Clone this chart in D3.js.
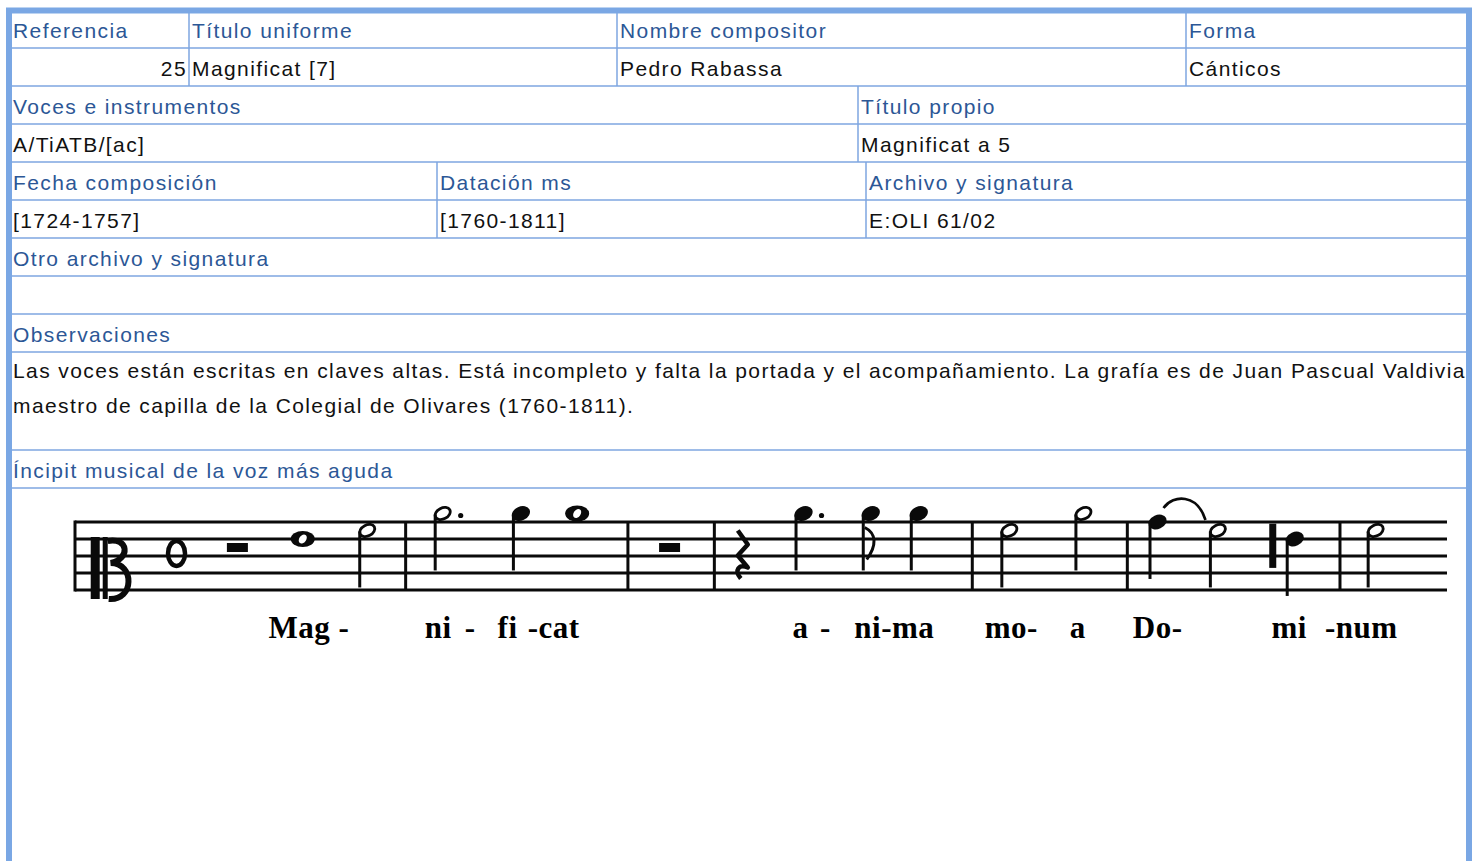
<!DOCTYPE html>
<html lang="es">
<head>
<meta charset="utf-8">
<title>Magnificat [7] - ficha</title>
<script src="https://cdn.jsdelivr.net/npm/d3@7"></script>
<style>
  html, body { margin: 0; padding: 0; background: #fff; }
  svg { display: block; }
  .form text { font-family: "Liberation Sans", Arial, sans-serif; font-size: 21px; letter-spacing: 1.4px; }
  .lbl { fill: #2c5796; }
  .val { fill: #111; }
  .grid { stroke: #7ea6e0; stroke-width: 1.5; }
  .lyric { font-family: "Liberation Serif", "Times New Roman", serif; font-weight: bold; font-size: 31px; letter-spacing: 0.5px; fill: #000; }
</style>
</head>
<body>
<div id="ficha"></div>
<script>
// ---- record fields ----
const headRow1 = ["Referencia", "Título uniforme", "Nombre compositor", "Forma"];
const valRow1 = ["25", "Magnificat [7]", "Pedro Rabassa", "Cánticos"];
const headRow2 = ["Voces e instrumentos", "Título propio"];
const valRow2 = ["A/TiATB/[ac]", "Magnificat a 5"];
const headRow3 = ["Fecha composición", "Datación ms", "Archivo y signatura"];
const valRow3 = ["[1724-1757]", "[1760-1811]", "E:OLI 61/02"];
const headRow4 = ["Otro archivo y signatura"];
const valRow4 = [""];
const obsLabel = "Observaciones";
const obsLines = [
  "Las voces están escritas en claves altas. Está incompleto y falta la portada y el acompañamiento. La grafía es de Juan Pascual Valdivia,",
  "maestro de capilla de la Colegial de Olivares (1760-1811)."
];
const incipitLabel = "Íncipit musical de la voz más aguda";

// ---- incipit (pos = place along the staff 0..1000, step = staff step, 0 = bottom line) ----
const notes = [
  { pos: 166, step: 6, dur: "whole" },
  { pos: 213, step: 7, dur: "half" },
  { pos: 268, step: 9, dur: "half", dot: true },
  { pos: 325, step: 9, dur: "quarter" },
  { pos: 366, step: 9, dur: "whole" },
  { pos: 531, step: 9, dur: "quarter", dot: true },
  { pos: 580, step: 9, dur: "eighth" },
  { pos: 615, step: 9, dur: "quarter" },
  { pos: 681, step: 7, dur: "half" },
  { pos: 735, step: 9, dur: "half" },
  { pos: 789, step: 8, dur: "quarter", tie: true },
  { pos: 833, step: 7, dur: "half" },
  { pos: 889, step: 6, dur: "quarter", acc: 873 },
  { pos: 948, step: 7, dur: "half" }
];
const barlines = [241, 403, 466, 654, 767, 922];
const restsWhole = [118, 433];
const restsQuarter = [486];
const lyrics = [
  ["Mag -", 141], ["ni", 255], ["-", 284], ["fi", 308], ["-cat", 330],
  ["a", 523], ["-", 543], ["ni-ma", 568], ["mo-", 663], ["a", 725],
  ["Do-", 771], ["mi", 872], ["-num", 911]
];

const W = 1479, H = 861;
const L = 12, R = 1466;

const svg = d3.select("#ficha").append("svg")
  .attr("width", W).attr("height", H);

const form = svg.append("g").attr("class", "form");

svg.append("defs").append("clipPath").attr("id", "inner")
  .append("rect").attr("x", L).attr("y", 10).attr("width", R - L).attr("height", H);

// horizontal rules
const hLines = [48, 86, 124, 162, 200, 238, 276, 314, 352, 450, 488];
form.selectAll("line.h").data(hLines).join("line")
  .attr("class", "grid h")
  .attr("x1", L).attr("x2", R).attr("y1", d => d).attr("y2", d => d);

// vertical rules
const vLines = [
  { x: 189, y1: 10, y2: 86 }, { x: 617, y1: 10, y2: 86 }, { x: 1186, y1: 10, y2: 86 },
  { x: 858, y1: 86, y2: 162 },
  { x: 437, y1: 162, y2: 238 }, { x: 866, y1: 162, y2: 238 }
];
form.selectAll("line.v").data(vLines).join("line")
  .attr("class", "grid v")
  .attr("x1", d => d.x).attr("x2", d => d.x).attr("y1", d => d.y1).attr("y2", d => d.y2);

// text cells
const cellRows = [
  { top: 10, cols: [L, 189, 617, 1186], texts: headRow1, cls: "lbl" },
  { top: 48, cols: [L, 189, 617, 1186], texts: valRow1, cls: "val" },
  { top: 86, cols: [L, 858], texts: headRow2, cls: "lbl" },
  { top: 124, cols: [L, 858], texts: valRow2, cls: "val" },
  { top: 162, cols: [L, 437, 866], texts: headRow3, cls: "lbl" },
  { top: 200, cols: [L, 437, 866], texts: valRow3, cls: "val" },
  { top: 238, cols: [L], texts: headRow4, cls: "lbl" },
  { top: 276, cols: [L], texts: valRow4, cls: "val" },
  { top: 314, cols: [L], texts: [obsLabel], cls: "lbl" },
  { top: 450, cols: [L], texts: [incipitLabel], cls: "lbl" }
];
const cells = cellRows.flatMap(r => r.texts.map((t, i) => ({
  t, cls: r.cls, y: r.top + 28, x: r.cols[i], right: r.cols[i + 1], first: i === 0
})));
form.append("g").attr("clip-path", "url(#inner)")
  .selectAll("text").data(cells).join("text")
  .attr("class", d => d.cls)
  .attr("y", d => d.y)
  .attr("x", d => (d.t === "25" ? d.right - 2 : d.x + (d.first ? 1 : 3)))
  .attr("text-anchor", d => (d.t === "25" ? "end" : "start"))
  .text(d => d.t);

form.append("g").attr("clip-path", "url(#inner)")
  .selectAll("text").data(obsLines).join("text")
  .attr("class", "val")
  .attr("x", L + 1).attr("y", (d, i) => 378 + i * 35)
  .text(d => d);

// outer frame
svg.append("path")
  .attr("d", `M9,${H + 10} V10.5 H1469 V${H + 10}`)
  .attr("fill", "none").attr("stroke", "#7aa7e4").attr("stroke-width", 6);

// ---- music ----
const mus = svg.append("g");
const xs = d3.scaleLinear().domain([0, 1000]).range([75, 1447]);
const ys = d3.scaleLinear().domain([0, 8]).range([590, 522]);
const ink = "#0a0a0a";

// staff
mus.selectAll("line.staff").data(d3.range(0, 9, 2)).join("line")
  .attr("x1", xs(0)).attr("x2", xs(1000))
  .attr("y1", d => ys(d)).attr("y2", d => ys(d))
  .attr("stroke", ink).attr("stroke-width", 3);
mus.append("line")
  .attr("x1", xs(0)).attr("x2", xs(0)).attr("y1", ys(8) - 1.5).attr("y2", ys(0) + 1.5)
  .attr("stroke", ink).attr("stroke-width", 3);

// barlines
mus.selectAll("line.bar").data(barlines).join("line")
  .attr("x1", d => xs(d)).attr("x2", d => xs(d))
  .attr("y1", ys(8)).attr("y2", ys(0))
  .attr("stroke", ink).attr("stroke-width", 3);

// C clef (old style)
const clef = mus.append("g").attr("transform", `translate(${xs(10)},${ys(6)})`);
clef.append("rect").attr("x", 2).attr("y", -2).attr("width", 9).attr("height", 62).attr("fill", ink);
clef.append("rect").attr("x", 14).attr("y", -2).attr("width", 5).attr("height", 62).attr("fill", ink);
clef.append("path")
  .attr("d", "M19,2 C40,-2 42,20 22,24 C46,24 46,62 20,60")
  .attr("fill", "none").attr("stroke", ink).attr("stroke-width", 6);

// time signature
mus.append("ellipse")
  .attr("cx", xs(74)).attr("cy", ys(4.3)).attr("rx", 8.5).attr("ry", 12.5)
  .attr("fill", "none").attr("stroke", ink).attr("stroke-width", 4.5);

// rests
mus.selectAll("rect.rest").data(restsWhole).join("rect")
  .attr("x", d => xs(d) - 10).attr("y", ys(6) + 4).attr("width", 21).attr("height", 9)
  .attr("fill", ink);
mus.selectAll("path.qrest").data(restsQuarter).join("path")
  .attr("transform", d => `translate(${xs(d)},${ys(7)})`)
  .attr("d", "M-4,0 L6,14 L-4,25 L6,37 C-3,33 -8,40 -1,48")
  .attr("fill", "none").attr("stroke", ink).attr("stroke-width", 4.5).attr("stroke-linejoin", "round");

// notes
const ng = mus.selectAll("g.note").data(notes).join("g")
  .attr("transform", d => `translate(${xs(d.pos)},${ys(d.step)})`);

ng.filter(d => d.dur === "whole").each(function () {
  const g = d3.select(this);
  g.append("ellipse").attr("rx", 12).attr("ry", 8).attr("fill", ink);
  g.append("ellipse").attr("rx", 3.5).attr("ry", 5).attr("transform", "rotate(35)").attr("fill", "#fff");
});
ng.filter(d => d.dur === "half").append("ellipse")
  .attr("rx", 8).attr("ry", 5.5).attr("transform", "rotate(-28)")
  .attr("fill", "#fff").attr("stroke", ink).attr("stroke-width", 2.8);
ng.filter(d => d.dur === "quarter" || d.dur === "eighth").append("ellipse")
  .attr("rx", 9.5).attr("ry", 7).attr("transform", "rotate(-25)").attr("fill", ink);
ng.filter(d => d.dur !== "whole").append("line")
  .attr("x1", -7.5).attr("x2", -7.5).attr("y1", 1)
  .attr("y2", d => ys(d.step - 6.7) - ys(d.step))
  .attr("stroke", ink).attr("stroke-width", 3);
ng.filter(d => d.dur === "eighth").append("path")
  .attr("d", "M-6,14 C6,20 6,32 -4,46")
  .attr("fill", "none").attr("stroke", ink).attr("stroke-width", 3);
ng.filter(d => d.dot).append("circle")
  .attr("cx", 18).attr("cy", 2).attr("r", 2.6).attr("fill", ink);
ng.filter(d => d.tie).append("path")
  .attr("d", "M6,-14 C16,-28 40,-28 48,-2")
  .attr("fill", "none").attr("stroke", ink).attr("stroke-width", 2.6);

// accidental
mus.selectAll("rect.acc").data(notes.filter(d => d.acc)).join("rect")
  .attr("x", d => xs(d.acc) - 3.5).attr("y", ys(7.8)).attr("width", 7)
  .attr("height", ys(2.6) - ys(7.8)).attr("fill", ink);

// lyrics
mus.selectAll("text.lyric").data(lyrics).join("text")
  .attr("class", "lyric")
  .attr("x", d => xs(d[1])).attr("y", 638)
  .text(d => d[0]);
</script>
</body>
</html>
